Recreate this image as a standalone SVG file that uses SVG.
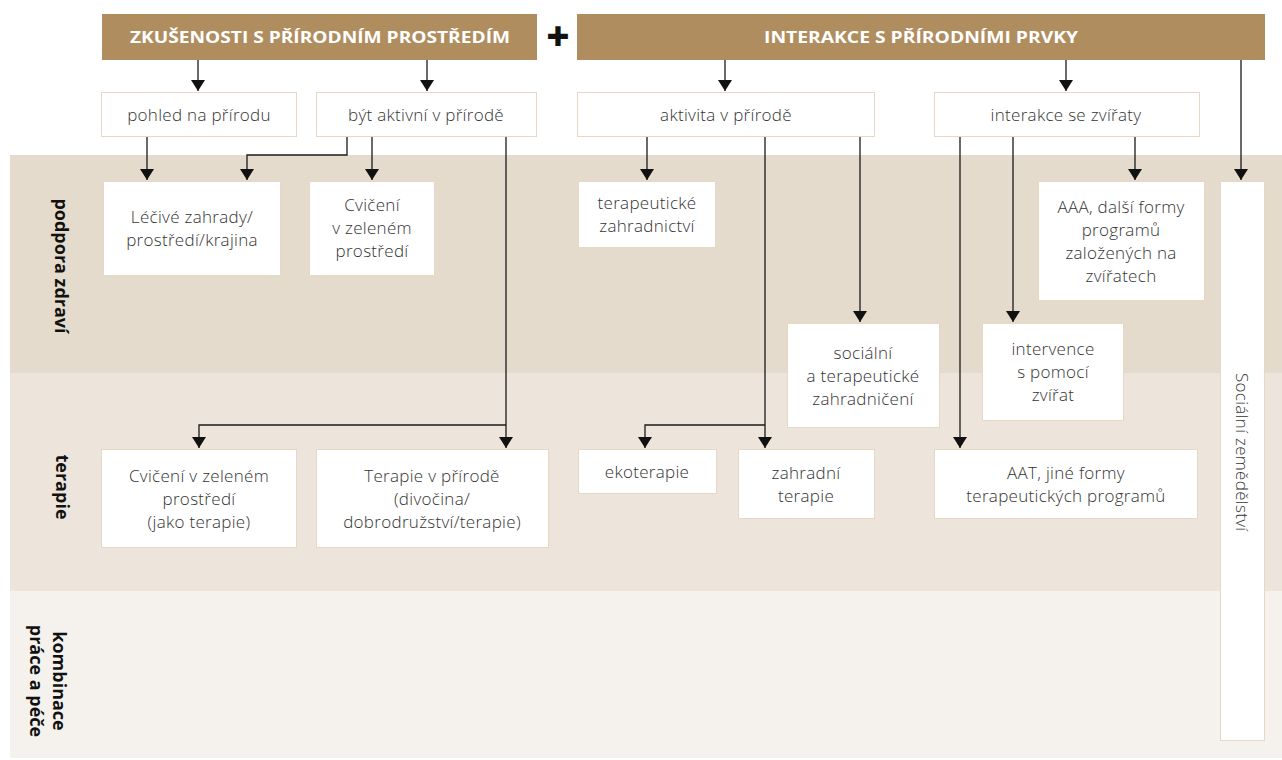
<svg xmlns="http://www.w3.org/2000/svg" width="1282" height="760" viewBox="0 0 1282 760">
<defs>
<style>
.band1{fill:#e5dbcc}
.band2{fill:#ede5dc}
.band3{fill:#f5f2ee}
.hdr{fill:#b08d5e}
.hdrt{font-family:"Open Sans","Liberation Sans",sans-serif;font-weight:700;font-size:16px;fill:#ffffff;text-anchor:middle}
.box{fill:#ffffff;stroke:#e6d8c4;stroke-width:1}
.bt{font-family:"Open Sans","Liberation Sans",sans-serif;font-weight:300;font-size:17px;letter-spacing:0.3px;fill:#333333;text-anchor:middle}
.lbl{font-family:"Open Sans","Liberation Sans",sans-serif;font-weight:700;font-size:18px;fill:#111111;text-anchor:middle}
.conn path{fill:none;stroke:#1a1a1a;stroke-width:1.3}
</style>
<marker id="ah" viewBox="0 -7 11 14" refX="11" refY="0" markerWidth="11" markerHeight="14" markerUnits="userSpaceOnUse" orient="auto">
<path d="M0,-7 L11,0 L0,7 z" fill="#111111"/>
</marker>
</defs>
<rect width="1282" height="760" fill="#ffffff"/>
<g id="bands">
<rect class="band1" x="10" y="155" width="1272" height="218"/>
<rect class="band2" x="10" y="373" width="1272" height="218"/>
<rect class="band3" x="10" y="591" width="1272" height="167"/>
</g>
<g id="row-labels">
<text class="lbl" transform="translate(55,266) rotate(90)">podpora zdraví</text>
<text class="lbl" transform="translate(56,487) rotate(90)">terapie</text>
<text class="lbl" transform="translate(53,681) rotate(90)">kombinace</text>
<text class="lbl" transform="translate(30,681) rotate(90)">práce a péče</text>
</g>
<g id="header1">
<rect class="hdr" x="102" y="14" width="435" height="46"/>
<text class="hdrt" x="320" y="43" textLength="380" lengthAdjust="spacingAndGlyphs">ZKUŠENOSTI S PŘÍRODNÍM PROSTŘEDÍM</text>
</g>
<g id="plus">
<text x="558" y="51" font-family="'Open Sans','Liberation Sans',sans-serif" font-weight="800" font-size="40" fill="#111111" text-anchor="middle">+</text>
</g>
<g id="header2">
<rect class="hdr" x="577" y="14" width="688" height="46"/>
<text class="hdrt" x="921" y="43" textLength="314" lengthAdjust="spacingAndGlyphs">INTERAKCE S PŘÍRODNÍMI PRVKY</text>
</g>
<g id="pohled">
<rect class="box" x="101.5" y="92.5" width="195" height="44"/>
<text class="bt" x="199" y="120.5">pohled na přírodu</text>
</g>
<g id="byt-aktivni">
<rect class="box" x="316.5" y="92.5" width="220" height="44"/>
<text class="bt" x="426" y="120.5">být aktivní v přírodě</text>
</g>
<g id="aktivita">
<rect class="box" x="577.5" y="92.5" width="297" height="44"/>
<text class="bt" x="726" y="120.5">aktivita v přírodě</text>
</g>
<g id="interakce-zvirata">
<rect class="box" x="934.5" y="92.5" width="265" height="44"/>
<text class="bt" x="1066" y="120.5">interakce se zvířaty</text>
</g>
<g id="lecive">
<rect class="box" x="103.5" y="181.5" width="177" height="94"/>
<text class="bt" x="192" y="222.5">Léčivé zahrady/</text>
<text class="bt" x="192" y="245.5">prostředí/krajina</text>
</g>
<g id="cviceni-zelene">
<rect class="box" x="309.5" y="181.5" width="125" height="94"/>
<text class="bt" x="372" y="211">Cvičení</text>
<text class="bt" x="372" y="234">v zeleném</text>
<text class="bt" x="372" y="257">prostředí</text>
</g>
<g id="ter-zahradnictvi">
<rect class="box" x="578.5" y="181.5" width="137" height="66"/>
<text class="bt" x="647" y="209">terapeutické</text>
<text class="bt" x="647" y="232">zahradnictví</text>
</g>
<g id="aaa">
<rect class="box" x="1038.5" y="181.5" width="166" height="119"/>
<text class="bt" x="1121" y="212.5">AAA, další formy</text>
<text class="bt" x="1121" y="235.5">programů</text>
<text class="bt" x="1121" y="258.5">založených na</text>
<text class="bt" x="1121" y="281.5">zvířatech</text>
</g>
<g id="socialni-zahradniceni">
<rect class="box" x="787.5" y="323.5" width="152" height="104"/>
<text class="bt" x="863" y="358.5">sociální</text>
<text class="bt" x="863" y="381.5">a terapeutické</text>
<text class="bt" x="863" y="404.5">zahradničení</text>
</g>
<g id="intervence">
<rect class="box" x="982.5" y="323.5" width="141" height="97"/>
<text class="bt" x="1053" y="355">intervence</text>
<text class="bt" x="1053" y="378">s pomocí</text>
<text class="bt" x="1053" y="401">zvířat</text>
</g>
<g id="cviceni-terapie">
<rect class="box" x="101.5" y="449.5" width="195" height="98"/>
<text class="bt" x="199" y="481.5">Cvičení v zeleném</text>
<text class="bt" x="199" y="504.5">prostředí</text>
<text class="bt" x="199" y="527.5">(jako terapie)</text>
</g>
<g id="terapie-prirode">
<rect class="box" x="316.5" y="449.5" width="232" height="98"/>
<text class="bt" x="432" y="481.5">Terapie v přírodě</text>
<text class="bt" x="432" y="504.5">(divočina/</text>
<text class="bt" x="432" y="527.5">dobrodružství/terapie)</text>
</g>
<g id="ekoterapie">
<rect class="box" x="578.5" y="449.5" width="138" height="44"/>
<text class="bt" x="647" y="477.5">ekoterapie</text>
</g>
<g id="zahradni-terapie">
<rect class="box" x="738.5" y="449.5" width="136" height="69"/>
<text class="bt" x="806" y="478.5">zahradní</text>
<text class="bt" x="806" y="501.5">terapie</text>
</g>
<g id="aat">
<rect class="box" x="934.5" y="449.5" width="263" height="69"/>
<text class="bt" x="1066" y="478.5">AAT, jiné formy</text>
<text class="bt" x="1066" y="501.5">terapeutických programů</text>
</g>
<g id="socialni-zemedelstvi">
<rect class="box" x="1220.5" y="181.5" width="44" height="559"/>
<text class="bt" style="text-anchor:start" transform="translate(1236,373) rotate(90)">Sociální zemědělství</text>
</g>
<g id="connectors" class="conn">
<path d="M198,60 V91" marker-end="url(#ah)"/>
<path d="M427,60 V91" marker-end="url(#ah)"/>
<path d="M725,60 V91" marker-end="url(#ah)"/>
<path d="M1066,60 V91" marker-end="url(#ah)"/>
<path d="M1241,60 V180" marker-end="url(#ah)"/>
<path d="M147,137 V180" marker-end="url(#ah)"/>
<path d="M347,137 V155 H247 V180" marker-end="url(#ah)"/>
<path d="M372,137 V180" marker-end="url(#ah)"/>
<path d="M506,137 V448" marker-end="url(#ah)"/>
<path d="M506,425 H199 V448" marker-end="url(#ah)"/>
<path d="M647,137 V180" marker-end="url(#ah)"/>
<path d="M765,137 V448" marker-end="url(#ah)"/>
<path d="M765,425 H645 V448" marker-end="url(#ah)"/>
<path d="M860,137 V322" marker-end="url(#ah)"/>
<path d="M960,137 V448" marker-end="url(#ah)"/>
<path d="M1013,137 V322" marker-end="url(#ah)"/>
<path d="M1135,137 V180" marker-end="url(#ah)"/>
</g>
</svg>
